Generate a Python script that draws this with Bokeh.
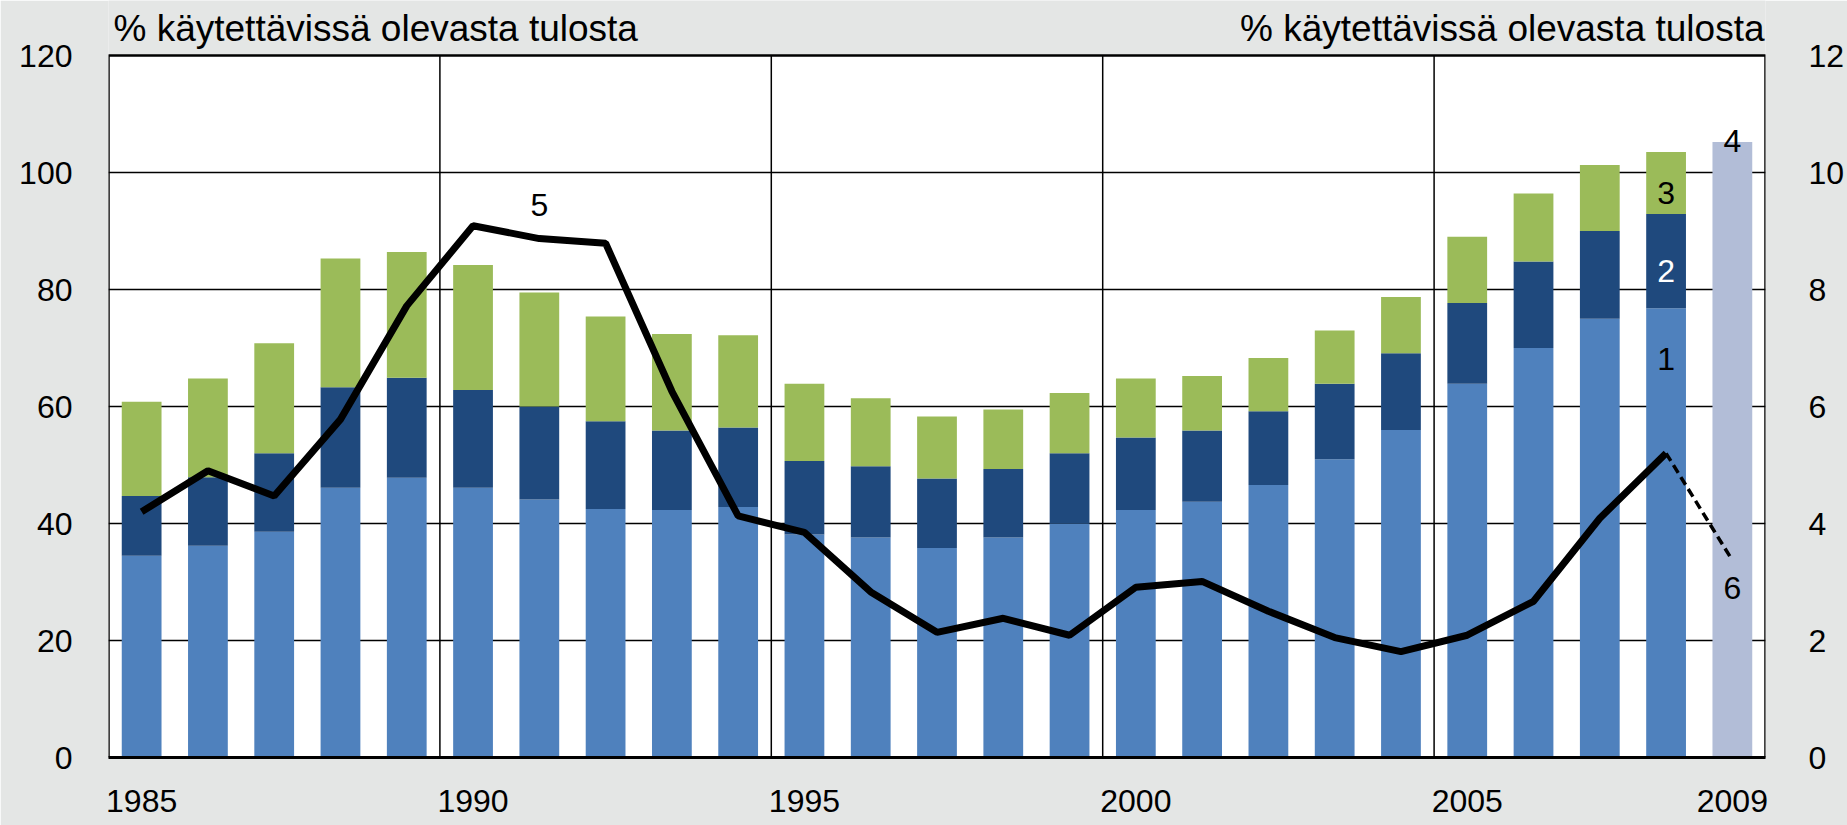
from bokeh.plotting import figure
from bokeh.models import Range1d, LinearAxis, FixedTicker, Label, ColumnDataSource, BoxAnnotation
from bokeh.embed import file_html
from bokeh.resources import INLINE

# ---- data ----
years = list(range(1985, 2009))
comp1 = [34.5, 36.2, 38.6, 46.1, 47.8, 46.1, 44.1, 42.5, 42.3, 42.8, 38.1, 37.6,
         35.8, 37.6, 40.0, 42.3, 43.7, 46.6, 51.0, 56.0, 63.9, 70.0, 75.0, 76.8]
comp2 = [10.2, 11.7, 13.4, 17.2, 17.1, 16.7, 15.9, 15.0, 13.6, 13.6, 12.6, 12.2,
         11.9, 11.7, 12.0, 12.4, 12.2, 12.6, 12.9, 13.1, 13.8, 14.8, 15.0, 16.1]
comp3 = [16.1, 16.9, 18.8, 22.0, 21.5, 21.4, 19.5, 17.9, 16.5, 15.8, 13.2, 11.6,
         10.6, 10.2, 10.3, 10.1, 9.3, 9.1, 9.1, 9.6, 11.3, 11.6, 11.3, 10.6]
total_year = [2009]
total_val = [105.2]
line_vals = [4.2, 4.9, 4.47, 5.78, 7.72, 9.09, 8.87, 8.79, 6.26, 4.13, 3.85, 2.83,
             2.14, 2.38, 2.09, 2.91, 3.01, 2.5, 2.05, 1.81, 2.09, 2.67, 4.09, 5.2]
fc_years = [2008, 2009]
fc_vals = [5.2, 3.37]
x_ticks = [1985, 1990, 1995, 2000, 2005, 2009]
period_bounds = [1989.5, 1994.5, 1999.5, 2004.5]
left_ticks = [0, 20, 40, 60, 80, 100, 120]
right_ticks = [0, 2, 4, 6, 8, 10, 12]
axis_title = "% käytettävissä olevasta tulosta"

FONT = "Liberation Sans"
BG = "#e4e6e5"
C1, C2, C3, C4 = "#4f81bd", "#1f497d", "#9bbb59", "#b2bdd7"

W, H = 1847, 825
FB = 68          # bottom border (tick labels)
TOP_GAP = 55     # pixels above the 120 line (room for the axis titles)
X0, X1 = 1984.5, 2009.5
YMAX = 120
frame_h = H - FB
px_per_unit = (frame_h - TOP_GAP) / YMAX
y_top = frame_h / px_per_unit
title_y = YMAX + 27 / px_per_unit   # text centre 27 px above the top line

p = figure(width=W, height=H, x_range=Range1d(X0, X1), y_range=Range1d(0, y_top),
           output_backend="svg", toolbar_location=None,
           min_border_left=108, min_border_right=80, min_border_top=0, min_border_bottom=FB)
p.background_fill_color = BG
p.border_fill_color = BG
p.outline_line_color = None
p.extra_y_ranges = {"r": Range1d(0, y_top / 10)}

# white plotting area (0..120)
p.add_layout(BoxAnnotation(left=X0, right=X1, bottom=0, top=YMAX, fill_color="white",
                           fill_alpha=1, line_color=None, level="image"))

# vertical period separators
p.segment(x0=period_bounds, y0=[0] * len(period_bounds), x1=period_bounds,
          y1=[YMAX] * len(period_bounds), line_color="black", line_width=1.5, level="underlay")

src = ColumnDataSource(dict(year=years, c1=comp1, c2=comp2, c3=comp3))
p.vbar_stack(["c1", "c2", "c3"], x="year", width=0.6, color=[C1, C2, C3],
             line_color=None, source=src)
p.vbar(x=total_year, top=total_val, width=0.6, color=C4, line_color=None)

p.line(years, line_vals, y_range_name="r", line_color="black", line_width=7)
p.line(fc_years, fc_vals, y_range_name="r", line_color="black", line_width=3.5, line_dash="9 5")

# border of the plotting area
p.add_layout(BoxAnnotation(left=X0, right=X1, bottom=0, top=YMAX, fill_color=None,
                           fill_alpha=0, line_color="black", line_alpha=1, line_width=2.5))

# axes
p.xaxis.ticker = FixedTicker(ticks=x_ticks)
p.yaxis.ticker = FixedTicker(ticks=left_ticks)
raxis = LinearAxis(y_range_name="r", ticker=FixedTicker(ticks=right_ticks))
p.add_layout(raxis, "right")

for ax in [p.xaxis[0], p.yaxis[0], raxis]:
    ax.major_tick_out = 0
    ax.major_tick_in = 0
    ax.minor_tick_out = 0
    ax.minor_tick_in = 0
    ax.major_label_text_font = FONT
    ax.major_label_text_font_size = "32px"
    ax.major_label_text_color = "black"
p.xaxis.axis_line_color = "black"
p.xaxis.axis_line_width = 3
p.yaxis.axis_line_color = None
raxis.axis_line_color = None
p.xaxis.major_label_standoff = 32
p.yaxis.major_label_standoff = 36
raxis.major_label_standoff = 43

p.xgrid.visible = False
p.ygrid.ticker = FixedTicker(ticks=[20, 40, 60, 80, 100])
p.ygrid.grid_line_color = "black"
p.ygrid.grid_line_width = 1.5
p.ygrid.grid_line_alpha = 1

# axis titles above the plotting area
p.add_layout(Label(x=X0, y=title_y, x_offset=5, text=axis_title,
                   text_font=FONT, text_font_size="37px", text_color="black",
                   text_align="left", text_baseline="middle"))
p.add_layout(Label(x=X1, y=title_y, x_offset=-1, text=axis_title,
                   text_font=FONT, text_font_size="37px", text_color="black",
                   text_align="right", text_baseline="middle"))

# series number labels
def num(x, y, t, color="black"):
    p.add_layout(Label(x=x, y=y, text=t, text_font=FONT, text_font_size="32px",
                       text_color=color, text_align="center", text_baseline="middle"))

num(1991, 94.5, "5")
num(2008, 68.2, "1")
num(2008, 83.1, "2", "white")
num(2008, 96.5, "3")
num(2009, 105.4, "4")
num(2009, 28.9, "6")

open("out.html", "w").write(file_html(p, INLINE))
